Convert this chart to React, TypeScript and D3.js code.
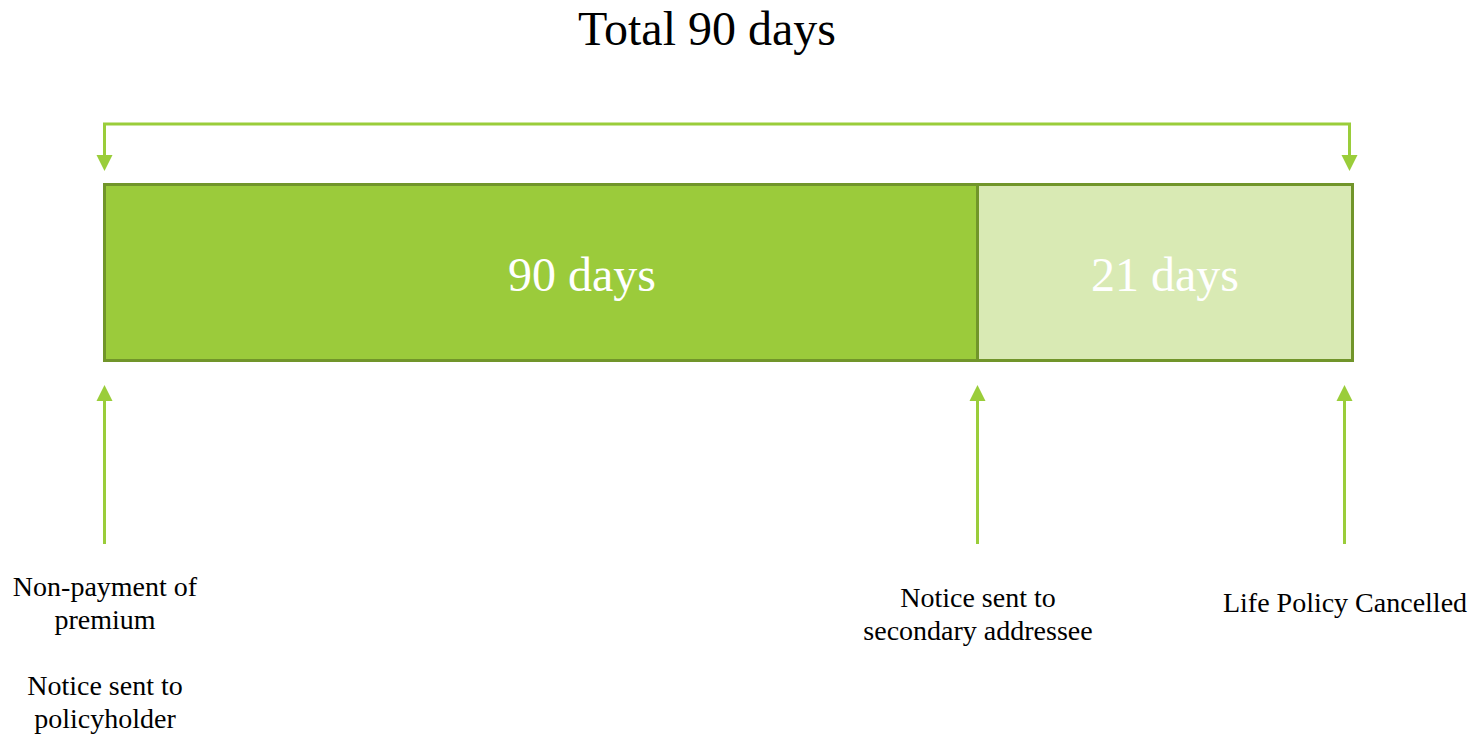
import React from "react";
import * as d3 from "d3";

const title = "Total 90 days";
const segmentLabels = ["90 days", "21 days"];
const segmentDays = [90, 21];
const milestoneDays = [0, 90, 111];
const milestoneLabels: string[][] = [
  ["Non-payment of", "premium", "", "Notice sent to", "policyholder"],
  ["Notice sent to", "secondary addressee"],
  ["Life Policy Cancelled"],
];

const W = 1480;
const H = 735;
const FONT = "'Liberation Serif', 'Times New Roman', serif";
const ARROW = "#9acd3a";
const STROKE = "#71952a";
const FILLS = ["#9bcb3b", "#d9eab4"];
const LABEL_SHIFT = [41, 0];

export default function App() {
  const total = d3.sum(segmentDays);
  // piecewise scale: the diagram is not drawn to proportion
  const x = d3.scaleLinear().domain([0, segmentDays[0], total]).range([104.5, 977.5, 1352.5]);
  const starts = segmentDays.map((_, i) => d3.sum(segmentDays.slice(0, i)));
  const barTop = 184.5;
  const barBottom = 360.5;
  const arrowX = (d: number, i: number) => (i === milestoneDays.length - 1 ? x(d) - 8 : x(d));

  const head = (cx: number, tipY: number, dir: number) =>
    `M${cx - 8},${tipY - dir * 16} L${cx + 8},${tipY - dir * 16} L${cx},${tipY} Z`;

  const lineH = 33;
  const labelTops = [596, 607, 612];

  return (
    <svg width={W} height={H} style={{ position: "absolute", left: 0, top: 0, background: "#fff" }}>
      <text x={707} y={45} textAnchor="middle" fontFamily={FONT} fontSize={48} fill="#000">
        {title}
      </text>
      {/* top bracket */}
      <path
        d={`M${x(0)},156 L${x(0)},124 L${x(total) - 3},124 L${x(total) - 3},156`}
        fill="none"
        stroke={ARROW}
        strokeWidth={3}
      />
      <path d={head(x(0), 171, 1)} fill={ARROW} />
      <path d={head(x(total) - 3, 171, 1)} fill={ARROW} />
      {/* bar segments */}
      {segmentDays.map((d, i) => (
        <rect
          key={i}
          x={x(starts[i])}
          y={barTop}
          width={x(starts[i] + d) - x(starts[i])}
          height={barBottom - barTop}
          fill={FILLS[i]}
          stroke={STROKE}
          strokeWidth={3}
        />
      ))}
      {segmentDays.map((d, i) => (
        <text
          key={"t" + i}
          x={(x(starts[i]) + x(starts[i] + d)) / 2 + LABEL_SHIFT[i]}
          y={291}
          textAnchor="middle"
          fontFamily={FONT}
          fontSize={48}
          fill="#fff"
        >
          {segmentLabels[i]}
        </text>
      ))}
      {/* milestone arrows */}
      {milestoneDays.map((d, i) => {
        const cx = arrowX(d, i);
        return (
          <g key={"m" + i}>
            <line x1={cx} x2={cx} y1={398} y2={544} stroke={ARROW} strokeWidth={3} />
            <path d={head(cx, 385, -1)} fill={ARROW} />
            {milestoneLabels[i].map((s, j) => (
              <text
                key={j}
                x={cx + 0.5}
                y={labelTops[i] + j * lineH}
                textAnchor="middle"
                fontFamily={FONT}
                fontSize={28}
                fill="#000"
              >
                {s}
              </text>
            ))}
          </g>
        );
      })}
    </svg>
  );
}
